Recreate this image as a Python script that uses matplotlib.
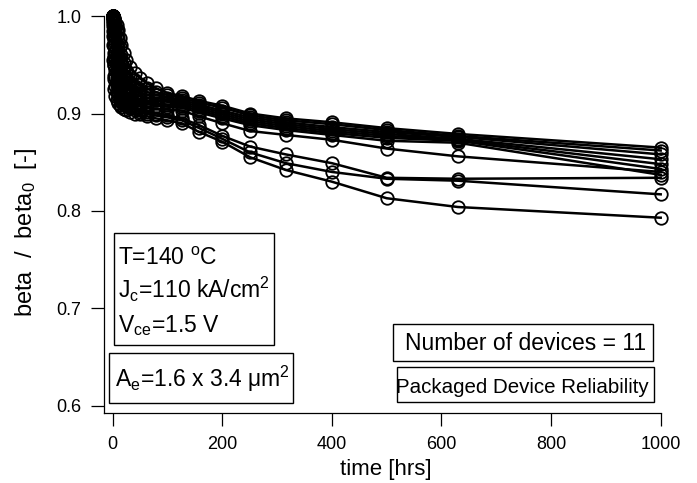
import matplotlib
matplotlib.use("Agg")
import matplotlib.pyplot as plt
from matplotlib.patches import Rectangle
from matplotlib.ticker import FormatStrFormatter

plt.rcParams['font.family'] = ['Liberation Sans', 'DejaVu Sans']
plt.rcParams['mathtext.fontset'] = 'custom'
plt.rcParams['mathtext.rm'] = 'Liberation Sans'
plt.rcParams['mathtext.it'] = 'Liberation Sans:italic'
plt.rcParams['mathtext.bf'] = 'Liberation Sans:bold'

# stress time [hrs]
hours = [0, 1, 2, 3, 5, 7, 10, 13, 16, 20, 25, 32, 40, 50, 63, 79, 100,
         126, 158, 200, 251, 316, 400, 500, 630, 1000]

# normalised current gain beta/beta0 for each packaged device
dev_A = [1.000, .999, .998, .997, .994, .991, .986, .978, .970, .962, .955, .948, .942, .936, .931, .926, .921,
         .918, .913, .908, .900, .895, .891, .885, .879, .865]
dev_B = [1.000, .999, .997, .995, .991, .986, .978, .968, .960, .952, .945, .939, .934, .930, .926, .922, .919,
         .916, .911, .906, .898, .893, .889, .883, .877, .862]
dev_C = [1.000, .998, .996, .993, .987, .980, .968, .958, .950, .943, .937, .932, .928, .925, .922, .919, .916,
         .914, .909, .903, .896, .891, .886, .881, .876, .858]
dev_D = [1.000, .997, .994, .990, .980, .970, .957, .948, .942, .936, .931, .927, .924, .921, .919, .916, .914,
         .912, .907, .901, .894, .889, .884, .879, .874, .853]
dev_E = [1.000, .995, .990, .984, .972, .960, .948, .940, .935, .930, .926, .923, .920, .918, .916, .914, .912,
         .910, .905, .899, .892, .887, .882, .877, .873, .848]
dev_F = [1.000, .993, .985, .977, .963, .952, .942, .935, .930, .926, .922, .919, .917, .915, .913, .911, .909,
         .908, .903, .897, .890, .885, .880, .875, .872, .843]
dev_G = [1.000, .990, .980, .970, .955, .945, .936, .930, .926, .922, .919, .916, .914, .912, .910, .908, .907,
         .906, .901, .895, .888, .883, .878, .872, .870, .837]
dev_H = [1.000, .985, .970, .958, .945, .936, .928, .923, .919, .916, .913, .911, .909, .908, .906, .905, .904,
         .903, .897, .890, .882, .878, .873, .864, .856, .840]
dev_I = [1.000, .980, .962, .950, .937, .929, .922, .918, .915, .912, .910, .908, .906, .904, .902, .900, .898,
         .895, .888, .877, .866, .858, .849, .834, .833, .834]
dev_J = [1.000, .970, .950, .938, .928, .922, .918, .915, .912, .910, .908, .906, .904, .902, .900, .898, .896,
         .893, .885, .874, .860, .849, .840, .833, .831, .817]
dev_K = [1.000, .955, .935, .925, .918, .914, .911, .909, .907, .905, .904, .902, .900, .899, .897, .895, .893,
         .890, .881, .871, .855, .842, .830, .813, .804, .793]

devices = [dev_A, dev_B, dev_C, dev_D, dev_E, dev_F, dev_G, dev_H, dev_I, dev_J, dev_K]

x_ticks = [0, 200, 400, 600, 800, 1000]
y_ticks = [0.6, 0.7, 0.8, 0.9, 1.0]

W, H = 697, 483


def fx(px):
    return px / W


def fy(py):
    return 1 - py / H


fig = plt.figure(figsize=(W / 100, H / 100), dpi=100)
ax = fig.add_axes([fx(104.3), fy(413.3), fx(660.7) - fx(104.3), fy(16.1) - fy(413.3)])

for vals in devices:
    ax.plot(hours, vals, color='black', lw=1.8, marker='o', ms=9,
            mfc='none', mec='black', mew=1.3, clip_on=False, zorder=3)

ax.set_xlim(-15.3, 1000)
ax.set_ylim(0.5922, 1.0)
ax.set_xticks(x_ticks)
ax.set_yticks(y_ticks)
ax.yaxis.set_major_formatter(FormatStrFormatter('%.1f'))

for side in ('top', 'right'):
    ax.spines[side].set_visible(False)
for side in ('left', 'bottom'):
    ax.spines[side].set_linewidth(0.9)
ax.tick_params(direction='out', length=9.5, width=0.9, labelsize=13, pad=7, color='black')

# axis titles
fig.text(fx(386), fy(475), 'time [hrs]', fontsize=16, ha='center', va='baseline')
fig.text(fx(26), fy(232), r'beta  /  beta$_\mathregular{0}$  [-]', fontsize=17,
         rotation=90, ha='center', va='center')

# annotation boxes
def box(x0, y0, x1, y1):
    fig.patches.append(Rectangle((fx(x0), fy(y1)), fx(x1) - fx(x0), fy(y0) - fy(y1),
                                 transform=fig.transFigure, facecolor='white',
                                 edgecolor='black', linewidth=1.0, zorder=4))


box(114.3, 233.3, 274.3, 345.0)
fig.text(fx(118), fy(265), r'T=140 $^\mathregular{o}$C', fontsize=16.5, va='baseline', zorder=5)
fig.text(fx(118), fy(298.3), r'J$_\mathregular{c}$=110 kA/cm$^\mathregular{2}$', fontsize=16.5,
         va='baseline', zorder=5)
fig.text(fx(118), fy(331.7), r'V$_\mathregular{ce}$=1.5 V', fontsize=16.5, va='baseline', zorder=5)

box(109.3, 353.3, 292.7, 402.7)
fig.text(fx(115), fy(386.7), r'A$_\mathregular{e}$=1.6 x 3.4 μm$^\mathregular{2}$', fontsize=16.5,
         va='baseline', zorder=5)

box(392.7, 324.0, 652.7, 360.7)
fig.text(fx(405), fy(350), 'Number of devices = 11', fontsize=16.5, va='baseline', zorder=5)

box(397.0, 366.7, 654.3, 402.3)
fig.text(fx(648.5), fy(393.3), 'Packaged Device Reliability', fontsize=14.8, ha='right',
         va='baseline', zorder=5)

fig.savefig('out.png', dpi=100)
